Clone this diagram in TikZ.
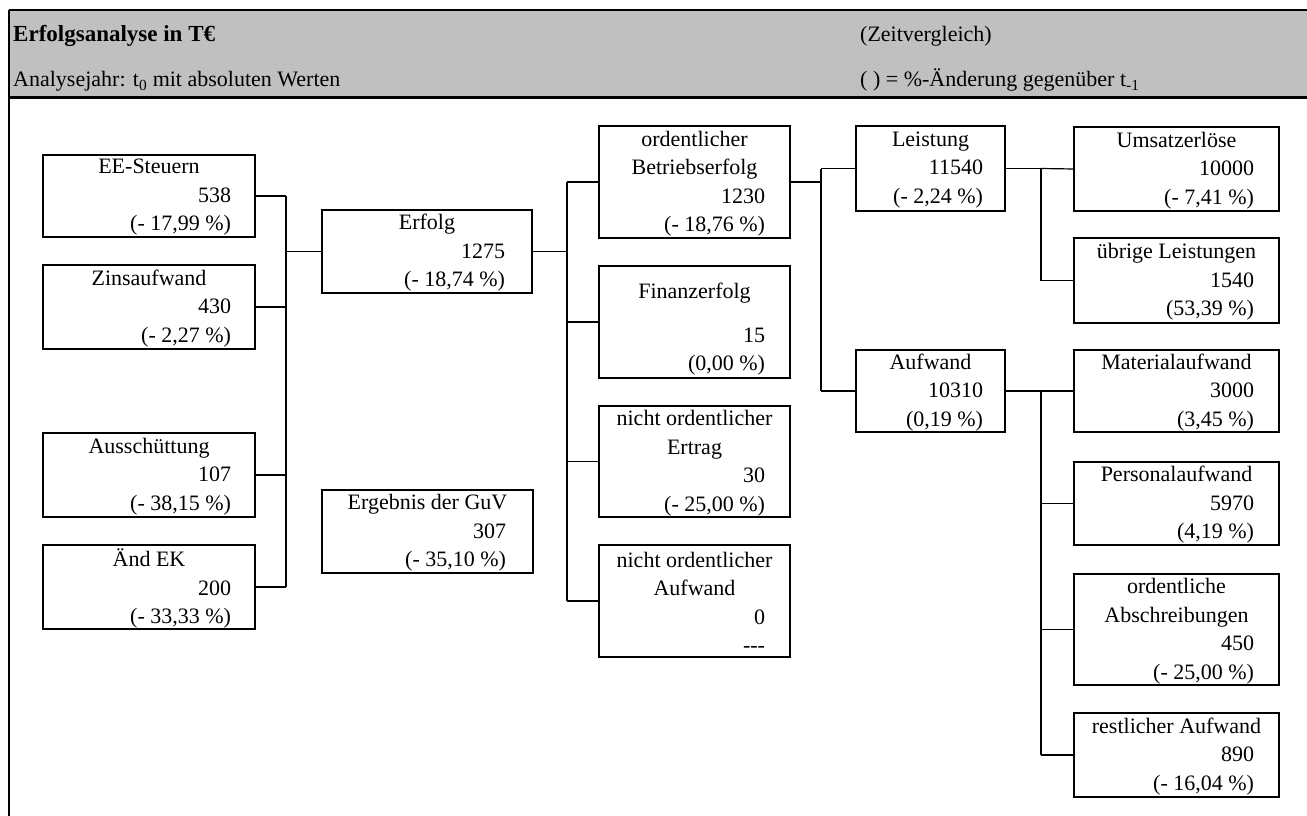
\documentclass[tikz,border=0pt]{standalone}
\usepackage{fontspec}
\setmainfont{Liberation Serif}
\definecolor{hdr}{RGB}{192,192,192}
\newcommand\tl[1]{\makebox[\linewidth]{#1}\par}
\newcommand\kbox[4]{\begin{minipage}{#1pt}\fontsize{22}{28.5}\selectfont\vspace*{3pt}#2\raggedleft #3\par #4\par\end{minipage}}
\begin{document}
\begin{tikzpicture}[x=1pt,y=-1pt,
  kb/.style={draw,line width=2.5pt,inner sep=0pt,outer sep=0pt},
  conn/.style={line width=1.2pt},
  htxt/.style={anchor=base west,inner sep=0pt,font=\fontsize{22}{26}\selectfont}]
\useasboundingbox (0,0) rectangle (1307,816);
% header
\fill[hdr] (9,10) rectangle (1307,97);
\draw[line width=2.5pt] (9,10) -- (1307,10);
\draw[line width=3pt] (9,97) -- (1307,97);
\draw[line width=2.5pt] (9,10) -- (9,816);
\node[htxt] (h1) at (13,42) {\fontsize{23}{26}\selectfont\textbf{Erfolgsanalyse in T€}};
\node[htxt] (h2) at (13,87) {Analysejahr: t\textsubscript{0} mit absoluten Werten};
\node[htxt] (h3) at (860,42) {(Zeitvergleich)};
\node[htxt] (h4) at (860,87) {( ) = \%-Änderung gegenüber t\textsubscript{-1}};
% column 1
\node[kb,minimum width=212,minimum height=82] (ee) at (149,196) {\kbox{164}{\tl{EE-Steuern}}{538}{(- 17,99 \%)}};
\node[kb,minimum width=212,minimum height=84] (zins) at (149,307) {\kbox{164}{\tl{Zinsaufwand}}{430}{(- 2,27 \%)}};
\node[kb,minimum width=212,minimum height=84] (aus) at (149,475) {\kbox{164}{\tl{Ausschüttung}}{107}{(- 38,15 \%)}};
\node[kb,minimum width=212,minimum height=84] (aek) at (149,587) {\kbox{164}{\tl{Änd EK}}{200}{(- 33,33 \%)}};
% column 2
\node[kb,minimum width=210,minimum height=83] (erf) at (427,251.5) {\kbox{156}{\tl{Erfolg}}{1275}{(- 18,74 \%)}};
\node[kb,minimum width=211,minimum height=83] (erg) at (427.5,531.5) {\kbox{157}{\tl{Ergebnis der GuV}}{307}{(- 35,10 \%)}};
% column 3
\node[kb,minimum width=191,minimum height=112] (obe) at (694.5,182) {\kbox{141}{\tl{ordentlicher}\tl{Betriebserfolg}}{1230}{(- 18,76 \%)}};
\node[kb,minimum width=191,minimum height=112] (fin) at (694.5,322) {\begin{minipage}{141pt}\fontsize{22}{28.5}\selectfont\vspace*{15pt}\tl{Finanzerfolg}\vspace{15pt}\raggedleft 15\par (0,00 \%)\par\end{minipage}};
\node[kb,minimum width=191,minimum height=111] (noe) at (694.5,461.5) {\kbox{141}{\tl{nicht ordentlicher}\tl{Ertrag}}{30}{(- 25,00 \%)}};
\node[kb,minimum width=191,minimum height=112] (noa) at (694.5,601) {\kbox{141}{\tl{nicht ordentlicher}\tl{Aufwand}}{0}{{-}{-}{-}}};
% column 4
\node[kb,minimum width=149,minimum height=85] (lei) at (930.5,168.5) {\kbox{105}{\tl{Leistung}}{11540}{(- 2,24 \%)}};
\node[kb,minimum width=149,minimum height=82] (auf) at (930.5,391) {\kbox{105}{\tl{Aufwand}}{10310}{(0,19 \%)}};
% column 5
\node[kb,minimum width=205,minimum height=84] (ums) at (1176.5,169) {\kbox{155}{\tl{Umsatzerlöse}}{10000}{(- 7,41 \%)}};
\node[kb,minimum width=205,minimum height=85] (ueb) at (1176.5,280.5) {\kbox{155}{\tl{übrige Leistungen}}{1540}{(53,39 \%)}};
\node[kb,minimum width=205,minimum height=82] (mat) at (1176.5,391) {\kbox{155}{\tl{Materialaufwand}}{3000}{(3,45 \%)}};
\node[kb,minimum width=205,minimum height=83] (per) at (1176.5,503.5) {\kbox{155}{\tl{Personalaufwand}}{5970}{(4,19 \%)}};
\node[kb,minimum width=205,minimum height=111] (abs) at (1176.5,629.5) {\kbox{155}{\tl{ordentliche}\tl{Abschreibungen}}{450}{(- 25,00 \%)}};
\node[kb,minimum width=205,minimum height=84] (rest) at (1176.5,755) {\kbox{155}{\tl{restlicher Aufwand}}{890}{(- 16,04 \%)}};
% junctions
\coordinate (j1) at (286,251.5);
\coordinate (j2) at (567,251.5);
\coordinate (j3) at (821,182);
\coordinate (j4) at (1041,168.5);
\coordinate (j5) at (1041,391);
% connectors
\foreach \n in {ee,zins,aus,aek}{\draw[conn] (\n.east) -- (\n.east -| j1);}
\draw[conn] (j1 |- ee.east) -- (j1 |- aek.east);
\draw[conn] (j1) -- (erf.west);
\draw[conn] (erf.east) -- (j2);
\draw[conn] (j2 |- obe.west) -- (j2 |- noa.west);
\foreach \n in {obe,fin,noe,noa}{\draw[conn] (\n.west -| j2) -- (\n.west);}
\draw[conn] (obe.east) -- (j3);
\draw[conn] (j3 |- lei.west) -- (j3 |- auf.west);
\draw[conn] (j3 |- lei.west) -- (lei.west);
\draw[conn] (j3 |- auf.west) -- (auf.west);
\draw[conn] (lei.east) -- (j4);
\draw[conn] (j4) -- (j4 |- ueb.west);
\draw[conn] (j4) -- (ums.west);
\draw[conn] (j4 |- ueb.west) -- (ueb.west);
\draw[conn] (auf.east) -- (j5);
\draw[conn] (j5) -- (j5 |- rest.west);
\draw[conn] (j5) -- (mat.west);
\foreach \n in {per,abs,rest}{\draw[conn] (\n.west -| j5) -- (\n.west);}
\end{tikzpicture}
\end{document}
